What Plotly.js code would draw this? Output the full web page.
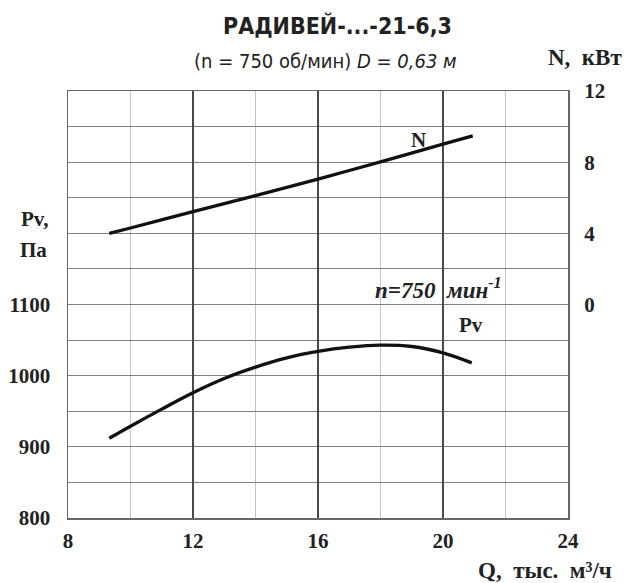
<!DOCTYPE html>
<html>
<head>
<meta charset="utf-8">
<script src="https://cdn.plot.ly/plotly-3.0.1.min.js"></script>
<style>html,body{margin:0;padding:0;background:#fff;}#chart{width:624px;height:583px;}</style>
</head>
<body>
<div id="chart"></div>
<script>
// Data
const qPv = [9.32, 10, 11, 12, 13, 14, 15, 16, 17, 18, 19, 20, 20.92];
const pv  = [912, 929, 953, 976, 996, 1012, 1025, 1034, 1040, 1043, 1041, 1032, 1018];
const qN  = [9.32, 10, 12, 14, 16, 18, 20, 20.95];
const nKw = [4.0, 4.3, 5.22, 6.12, 7.05, 8.02, 9.01, 9.48];

const xGridVals = [8, 10, 12, 14, 16, 18, 20, 22, 24];
const xTickText = ['8', '', '12', '', '16', '', '20', '', '24'];
const xMajorVals = [12, 16, 20];
const yTickVals = [800, 850, 900, 950, 1000, 1050, 1100, 1150, 1200, 1250, 1300, 1350, 1400];
const yTickText = ['800', '', '900', '', '1000', '', '1100', '', '', '', '', '', ''];
const y2TickVals = [0, 4, 8, 12];
const y2TickText = ['0', '4', '8', '12'];

const L = 68, R = 568, T = 91, B = 518;
const px = x => (x - L) / (R - L);
const py = y => (B - y) / (B - T);

const serifB = {family: 'Liberation Serif, Times New Roman, serif', size: 21, color: '#222', weight: 'bold'};
const serifBig = {family: 'Liberation Serif, Times New Roman, serif', size: 23, color: '#222', weight: 'bold'};
const narrow = 'Liberation Sans Narrow, DejaVu Sans Condensed, Arial Narrow, Roboto, sans-serif';

const traces = [
  {x: qPv, y: pv, mode: 'lines', line: {color: '#111', width: 3.3, shape: 'spline', smoothing: 1}, xaxis: 'x', yaxis: 'y', hoverinfo: 'skip'},
  {x: qN, y: nKw, mode: 'lines', line: {color: '#111', width: 3.3, shape: 'spline', smoothing: 0.8}, xaxis: 'x2', yaxis: 'y2', hoverinfo: 'skip'}
];

const layout = {
  width: 624, height: 583,
  margin: {l: L, r: 624 - R, t: T, b: 583 - B},
  paper_bgcolor: '#fff', plot_bgcolor: '#fff',
  showlegend: false,
  xaxis: {
    range: [8, 24], tickvals: xGridVals, ticktext: xTickText,
    showgrid: true, gridcolor: '#c4c4c4', gridwidth: 1,
    showline: true, mirror: true, linecolor: '#666', linewidth: 1.5,
    ticks: 'outside', ticklen: 3, tickcolor: 'rgba(0,0,0,0)',
    tickfont: serifB, zeroline: false, fixedrange: true
  },
  xaxis2: {
    overlaying: 'x', range: [8, 24], tickvals: xMajorVals,
    showgrid: true, gridcolor: '#4a4a4a', gridwidth: 1.2,
    showticklabels: false, ticks: '', showline: false, zeroline: false, fixedrange: true
  },
  yaxis: {
    range: [800, 1400], tickvals: yTickVals, ticktext: yTickText,
    showgrid: true, gridcolor: '#808080', gridwidth: 1,
    showline: true, mirror: true, linecolor: '#666', linewidth: 1.5,
    ticks: 'outside', ticklen: 12, tickcolor: 'rgba(0,0,0,0)',
    tickfont: serifB, zeroline: false, fixedrange: true
  },
  yaxis2: {
    overlaying: 'y', side: 'right', range: [-12, 12],
    tickvals: y2TickVals, ticktext: y2TickText,
    showgrid: false, zeroline: false, showline: false,
    ticks: 'outside', ticklen: 11, tickcolor: 'rgba(0,0,0,0)',
    tickfont: serifB, fixedrange: true
  },
  annotations: [
    {xref: 'paper', yref: 'paper', x: px(337), y: py(25), text: '<b>РАДИВЕЙ-...-21-6,3</b>', showarrow: false,
     font: {family: narrow, size: 23, color: '#222'}, xanchor: 'center', yanchor: 'middle'},
    {xref: 'paper', yref: 'paper', x: px(325), y: py(61), text: '(n = 750 об/мин) <i>D = 0,63 м</i>', showarrow: false,
     font: {family: narrow, size: 20, color: '#222'}, xanchor: 'center', yanchor: 'middle'},
    {xref: 'paper', yref: 'paper', x: px(585), y: py(58), text: 'N,  кВт', showarrow: false,
     font: serifBig, xanchor: 'center', yanchor: 'middle'},
    {xref: 'paper', yref: 'paper', x: px(34), y: py(219), text: 'Pv,', showarrow: false,
     font: serifB, xanchor: 'center', yanchor: 'middle'},
    {xref: 'paper', yref: 'paper', x: px(33), y: py(250), text: 'Па', showarrow: false,
     font: serifB, xanchor: 'center', yanchor: 'middle'},
    {xref: 'paper', yref: 'paper', x: px(545), y: py(570), text: 'Q,  тыс.  м³/ч', showarrow: false,
     font: serifBig, xanchor: 'center', yanchor: 'middle'},
    {xref: 'paper', yref: 'paper', x: px(418), y: py(140), text: 'N', showarrow: false,
     font: serifB, xanchor: 'center', yanchor: 'middle'},
    {xref: 'paper', yref: 'paper', x: px(438), y: py(288), text: '<i>n=750  мин<sup>-1</sup></i>', showarrow: false,
     font: {family: 'Liberation Serif, serif', size: 23, color: '#222', weight: 'bold'}, xanchor: 'center', yanchor: 'middle'},
    {xref: 'paper', yref: 'paper', x: px(471), y: py(325), text: 'Pv', showarrow: false,
     font: serifB, xanchor: 'center', yanchor: 'middle'}
  ]
};

Plotly.newPlot('chart', traces, layout, {staticPlot: true, displayModeBar: false});
</script>
</body>
</html>
